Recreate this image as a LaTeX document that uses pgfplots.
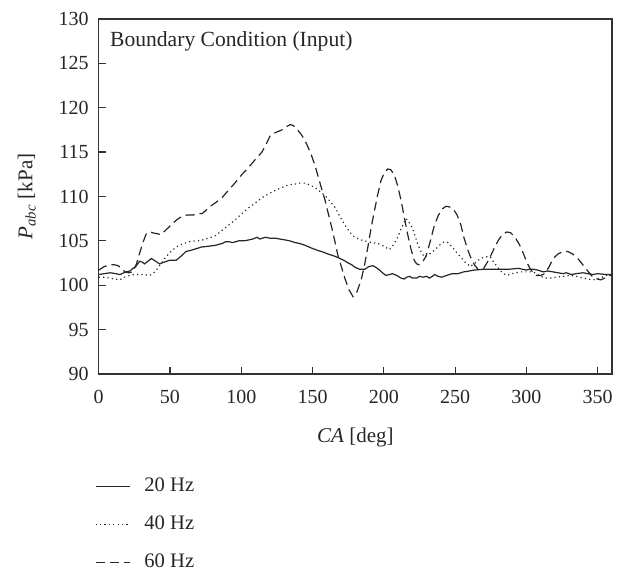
\documentclass[border=0pt]{standalone}
\usepackage{fontspec}
\setmainfont{Liberation Serif}
\usepackage{pgfplots}
\pgfplotsset{compat=1.18}
\begin{document}
\begin{tikzpicture}
\begin{axis}[
  width=256.7pt, height=177.5pt, scale only axis,
  xmin=0, xmax=360, ymin=90, ymax=130,
  xtick={0,50,...,350}, ytick={90,95,...,130},
  tick pos=left, tick align=inside, major tick length=3.5pt,
  axis line style={black!80, line width=0.6pt},
  every tick/.style={black!80, line width=0.6pt},
  /pgf/number format/assume math mode=true,
  ticklabel style={font=\fontsize{10}{12}\selectfont, text=black!85},
  xticklabel style={yshift=-4.5pt},
  yticklabel style={xshift=-1.5pt},
  xlabel={\textit{CA} [deg]},
  ylabel={\textit{P}\textsubscript{\textit{abc}} [kPa]},
  x label style={at={(axis description cs:0.5,-0.178)}, anchor=center, text=black!85, font=\fontsize{10.5}{12}\selectfont},
  y label style={at={(axis description cs:-0.14,0.5)}, anchor=center, text=black!85, font=\fontsize{10.5}{12}\selectfont},
  legend style={at={(axis description cs:0,-0.27)}, anchor=north west, xshift=-5pt,
    draw=none, fill=none, row sep=6.6pt, font=\fontsize{10.3}{12}\selectfont, text=black!85},
  legend cell align=left,
  legend image post style={line width=0.6pt},
]
\addplot[black!85, line width=0.6pt] coordinates {
(0,101.2) (4,101.3) (8,101.4) (12,101.3) (15,101.2) (19,101.5) (22,101.6) (24,101.9)
(26,102.1) (28.7,102.7) (30.5,102.6) (32.2,102.4) (34.5,102.7) (36.9,103.0) (39,102.8)
(42.7,102.4) (46,102.6) (49.6,102.8) (54.3,102.8) (58,103.3) (61.2,103.8) (64,103.9)
(68.2,104.1) (72,104.3) (77.5,104.4) (82,104.5) (86.7,104.7) (89,104.9) (91.4,104.9)
(94,104.8) (98.3,105.0) (102,105.0) (105.3,105.1) (108,105.2) (111.1,105.4) (113,105.2)
(116.9,105.4) (120,105.3) (123.9,105.3) (127,105.2) (130.8,105.1) (134,105.0) (137.8,104.8)
(141,104.7) (144.7,104.5) (149,104.2) (154,103.9) (158,103.7) (161,103.5) (165,103.3)
(168,103.1) (172,102.8) (175,102.5) (177.5,102.3) (180,102.0) (183,101.8) (186.7,101.8)
(189.5,102.1) (192.3,102.2) (194.5,102.0) (197,101.7) (199,101.4) (201.5,101.1) (204,101.2)
(206,101.3) (209,101.1) (212,100.8) (214.3,100.7) (216,100.9) (218,101.0) (220,100.8)
(223,100.8) (225,101.0) (227.5,100.9) (230,101.0) (232,100.8) (234,101.0) (235.7,101.2)
(238,101.0) (240.5,100.9) (244,101.1) (248,101.3) (252,101.3) (256,101.5) (260,101.6)
(263,101.7) (270,101.8) (276,101.8) (281.6,101.8) (288,101.8) (294.4,101.9) (297,101.8)
(300.2,101.7) (302,101.8) (304.8,101.8) (308,101.7) (311.8,101.5) (315,101.6) (318.7,101.5)
(322,101.4) (325.7,101.3) (328,101.4) (331.5,101.2) (335,101.3) (339.6,101.4) (343,101.3)
(346.6,101.2) (350,101.3) (356,101.2) (360,101.2)
};
\addlegendentry{\hspace{5pt}20 Hz}
\addplot[black!85, line width=0.6pt, dash pattern=on 0.6pt off 1.6pt] coordinates {
(0,100.9) (4,100.9) (7.9,100.8) (11,100.7) (14.8,100.6) (18,100.9) (21.8,101.1) (25,101.2)
(28.7,101.2) (32,101.2) (35.7,101.1) (38,101.3) (40.4,101.7) (44,102.5) (47.3,103.2)
(50,103.7) (54.3,104.3) (58,104.6) (63.5,104.9) (68,105.0) (72.8,105.1) (77,105.3)
(82.1,105.6) (86,106.1) (91.4,106.8) (96,107.4) (100.6,108.1) (105,108.7) (110,109.3)
(115,109.9) (119.2,110.3) (124,110.7) (128.5,111.0) (133,111.3) (137.8,111.4) (141,111.5)
(144.7,111.5) (148,111.3) (151.7,111.0) (155,110.6) (158.7,110.1) (162,109.5) (165.6,108.8)
(169,107.8) (172.6,106.8) (176,106.0) (179.5,105.4) (184,105.1) (188.8,104.9) (192,104.8)
(195.8,104.7) (200,104.4) (203.9,104.0) (207,104.6) (209.7,105.4) (212,106.3) (215.5,107.5)
(218,107.0) (220.1,106.4) (222,105.5) (223.6,104.7) (226,103.8) (228.3,103.2) (231,103.4)
(235.2,103.9) (239,104.5) (242.2,104.9) (245,104.8) (248,104.3) (251,103.7) (253.7,103.2)
(257,102.6) (260.7,102.1) (264,102.5) (267.6,103.0) (271,103.2) (274.6,103.2) (277,102.6)
(280.4,101.9) (283,101.4) (286.2,101.1) (290,101.3) (295.5,101.5) (300,101.5) (304.8,101.5)
(309,101.1) (312.9,100.8) (317,100.8) (321,100.9) (326,101.0) (330.3,101.1) (335,101.0)
(339.6,100.8) (343,100.7) (346.6,100.6) (350,100.7) (353,100.9) (356,101.1) (360,101.2)
};
\addlegendentry{\hspace{5pt}40 Hz}
\addplot[black!85, line width=0.6pt, dash pattern=on 4.5pt off 2.5pt] coordinates {
(0,101.7) (4,102.1) (7.9,102.3) (11,102.3) (13.6,102.2) (16,101.9) (18.3,101.5) (21,101.4)
(24,101.5) (26.5,102.4) (28.7,103.6) (31,104.8) (33.4,105.8) (36,106.0) (38,105.9)
(41,105.8) (43.8,105.7) (47,106.2) (50.8,106.8) (55,107.4) (58.9,107.8) (62,107.9)
(65.8,107.9) (69,108.0) (72.8,108.1) (75,108.4) (77.5,108.8) (82,109.3) (86.7,109.9)
(91,110.7) (96,111.6) (100.6,112.5) (105.3,113.3) (110,114.2) (114.5,115.0) (117.5,115.9)
(120.4,116.9) (124,117.2) (128.5,117.5) (131,117.8) (134.3,118.1) (136.5,118.0) (138.9,117.6)
(142,117.0) (144.7,116.3) (147,115.5) (149.3,114.6) (151.7,113.5) (154,112.2) (156.3,110.9)
(158.7,109.6) (161,108.1) (163.3,106.6) (165.7,104.9) (168,103.2) (170.2,102.1) (172.6,100.8)
(175.5,99.5) (178.4,98.7) (181,99.2) (184.1,100.6) (186.5,102.3) (188.8,104.3) (191,106.4)
(193.4,108.4) (195.7,110.2) (198,111.8) (200.4,112.7) (202.7,113.1) (205,113.0) (207.4,112.4)
(209.7,111.2) (212,109.6) (214.3,107.7) (216.6,105.8) (219,104.1) (221.3,102.8) (223,102.4)
(224.8,102.3) (227,102.6) (229.4,103.2) (232.3,104.8) (235.2,106.6) (238,107.8) (241,108.6)
(243.6,108.9) (246.3,108.8) (249,108.5) (251.4,107.9) (254,106.8) (256.1,105.4) (258.4,104.2)
(260.7,103.2) (263.5,102.3) (266.5,101.7) (270,101.9) (272.3,102.5) (274.6,103.2) (277.5,104.2)
(280.4,105.1) (283.3,105.7) (286.2,106.0) (289,105.9) (292,105.4) (295,104.6) (297.8,103.6)
(300,102.7) (302.4,101.9) (304.7,101.4) (307.1,101.1) (310,101.1) (312.9,101.3) (316,102.1)
(318.7,103.0) (322,103.5) (325.7,103.8) (329,103.8) (332.6,103.5) (336,103.0) (339.6,102.3)
(343,101.6) (346.6,100.9) (349.5,100.7) (352.3,100.6) (356,100.9) (360,101.2)
};
\addlegendentry{\hspace{5pt}60 Hz}
\node[anchor=west, text=black!85, font=\fontsize{10.8}{12}\selectfont] at (rel axis cs:0,1) [xshift=2.2pt, yshift=-11.3pt] {Boundary Condition (Input)};
\coordinate (TR) at (rel axis cs:1,1);
\coordinate (BL) at (rel axis cs:0,0);
\end{axis}
\path (BL) ++(-49.35pt,-100pt) coordinate (A);
\path (TR) ++(4.5pt,9.5pt) coordinate (B);
\pgfresetboundingbox
\path (A) rectangle (B);
\end{tikzpicture}
\end{document}
